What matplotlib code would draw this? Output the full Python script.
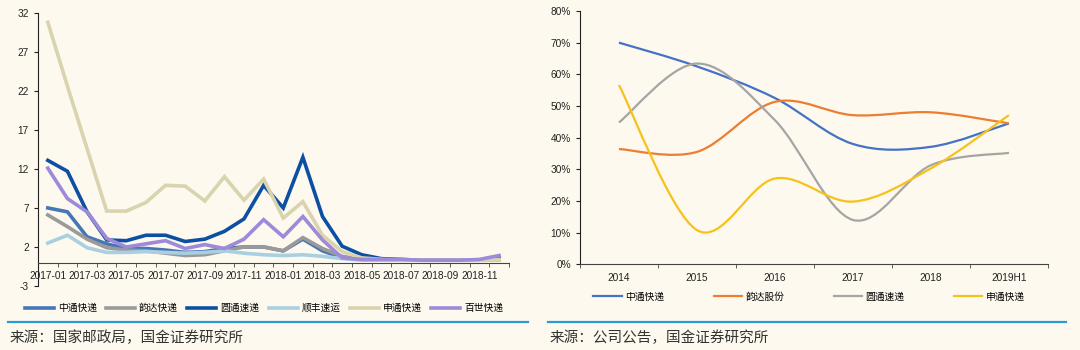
import matplotlib
matplotlib.use('Agg')
import matplotlib.pyplot as plt
from matplotlib.path import Path
from matplotlib.patches import PathPatch
from matplotlib.lines import Line2D
from matplotlib.ticker import FuncFormatter, FixedLocator
import numpy as np

plt.rcParams['font.family'] = ['Liberation Sans', 'Noto Sans CJK SC', 'DejaVu Sans']
plt.rcParams['axes.unicode_minus'] = False

# ---- left chart data: monthly complaint rates ----
months = ['%d-%02d' % (y, m) for y in (2017, 2018) for m in range(1, 13)]
zto_m = [7.0, 6.5, 3.3, 2.4, 1.8, 1.8, 1.6, 1.3, 1.4, 1.8, 2.0, 2.0, 1.5, 3.0, 1.5, 0.6, 0.4, 0.3, 0.3, 0.3, 0.3, 0.3, 0.3, 0.5]
yunda_m = [6.1, 4.6, 3.0, 1.9, 1.6, 1.5, 1.2, 0.9, 1.0, 1.5, 2.0, 2.0, 1.5, 3.2, 1.8, 0.8, 0.4, 0.3, 0.3, 0.3, 0.3, 0.3, 0.3, 0.4]
yto_m = [13.1, 11.7, 6.5, 2.9, 2.8, 3.5, 3.5, 2.7, 3.0, 4.0, 5.6, 9.9, 7.0, 13.5, 5.9, 2.1, 1.0, 0.5, 0.4, 0.3, 0.3, 0.3, 0.3, 0.6]
sf_m = [2.5, 3.5, 1.9, 1.3, 1.3, 1.4, 1.3, 1.2, 1.3, 1.5, 1.2, 1.0, 0.9, 1.0, 0.8, 0.5, 0.3, 0.3, 0.3, 0.3, 0.3, 0.3, 0.3, 0.3]
sto_m = [30.8, 22.6, 14.6, 6.6, 6.6, 7.7, 9.9, 9.8, 7.9, 11.0, 8.0, 10.7, 5.7, 7.8, 3.5, 1.4, 0.6, 0.4, 0.3, 0.3, 0.3, 0.3, 0.3, 0.4]
best_m = [12.1, 8.2, 6.5, 3.1, 2.0, 2.4, 2.8, 1.8, 2.3, 1.8, 3.0, 5.5, 3.3, 5.9, 2.9, 0.6, 0.4, 0.4, 0.4, 0.3, 0.3, 0.3, 0.4, 0.9]
left_names = ['中通快递', '韵达快递', '圆通速递', '顺丰速运', '申通快递', '百世快递']
left_colors = ['#4676b6', '#9a9a9a', '#0d4fa3', '#a9d0e2', '#d9d3ae', '#9d8ad8']

# ---- right chart data: yearly share ----
years = ['2014', '2015', '2016', '2017', '2018', '2019H1']
zto_y = [0.700, 0.625, 0.525, 0.380, 0.371, 0.445]
yunda_y = [0.364, 0.355, 0.513, 0.471, 0.480, 0.445]
yto_y = [0.448, 0.634, 0.455, 0.140, 0.313, 0.352]
sto_y = [0.566, 0.108, 0.271, 0.198, 0.303, 0.471]
right_names = ['中通快递', '韵达股份', '圆通速递', '申通快递']
right_colors = ['#4472c4', '#ed7d31', '#a5a5a5', '#f6c21a']

bg = '#fdf9ef'
fig = plt.figure(figsize=(10.8, 3.5), dpi=100, facecolor=bg)


def smooth_path(xs, ys):
    # Excel-style smoothed line: cubic bezier through every point
    pts = np.column_stack([xs, ys]).astype(float)
    n = len(pts)
    verts = [pts[0]]
    codes = [Path.MOVETO]
    for i in range(n - 1):
        p0 = pts[i - 1] if i > 0 else pts[i]
        p1 = pts[i]
        p2 = pts[i + 1]
        p3 = pts[i + 2] if i + 2 < n else pts[i + 1]
        c1 = p1 + (p2 - p0) / 6.0
        c2 = p2 - (p3 - p1) / 6.0
        verts += [c1, c2, p2]
        codes += [Path.CURVE4] * 3
    return Path(verts, codes)


def style_axes(ax):
    ax.set_facecolor(bg)
    for s in ['top', 'right']:
        ax.spines[s].set_visible(False)
    ax.spines['left'].set_color('#222222')
    ax.spines['bottom'].set_color('#444444')
    ax.tick_params(axis='both', labelsize=7.3, colors='#222222', length=3)


# ---- left ----
ax1 = fig.add_axes([0.0352, 0.183, 0.436, 0.78])
style_axes(ax1)
x = np.arange(len(months))
series_m = [zto_m, yunda_m, yto_m, sf_m, sto_m, best_m]
for vals, name, c in zip(series_m, left_names, left_colors):
    ax1.plot(x, vals, color=c, lw=2.6, label=name, solid_joinstyle='miter')
ax1.set_xlim(-0.5, len(months) - 0.5)
ax1.set_ylim(-3, 32)
ax1.set_yticks([-3, 2, 7, 12, 17, 22, 27, 32])
ax1.spines['bottom'].set_position(('data', 0))
ax1.set_xticks(x[::2])
ax1.set_xticklabels(months[::2])
ax1.xaxis.set_minor_locator(FixedLocator(np.arange(-0.5, len(months), 1.0)))
ax1.tick_params(axis='x', which='major', length=0, pad=6)
ax1.tick_params(axis='x', which='minor', length=3, color='#444444', direction='out')

fig.legend(handles=[Line2D([], [], color=c, lw=2.6) for c in left_colors],
           labels=left_names, loc='center', bbox_to_anchor=(0.2444, 0.12),
           ncol=6, frameon=False, fontsize=7, handlelength=3.0,
           handletextpad=0.4, columnspacing=0.95)

# ---- right ----
ax2 = fig.add_axes([0.537, 0.2449, 0.4333, 0.7237])
style_axes(ax2)
xr = np.arange(len(years))
series_y = [zto_y, yunda_y, yto_y, sto_y]
for vals, c in zip(series_y, right_colors):
    ax2.add_patch(PathPatch(smooth_path(xr, vals), fill=False, edgecolor=c, lw=1.6))
ax2.set_xlim(-0.5, len(years) - 0.5)
ax2.set_ylim(0, 0.8)
ax2.set_yticks(np.arange(0, 0.81, 0.1))
ax2.yaxis.set_major_formatter(FuncFormatter(lambda v, p: '%d%%' % round(v * 100)))
ax2.set_xticks(xr)
ax2.set_xticklabels(years)
ax2.xaxis.set_minor_locator(FixedLocator(np.arange(-0.5, len(years), 1.0)))
ax2.tick_params(axis='x', which='major', length=0, pad=6)
ax2.tick_params(axis='x', which='minor', length=3, color='#444444', direction='out')

fig.legend(handles=[Line2D([], [], color=c, lw=1.6) for c in right_colors],
           labels=right_names, loc='center', bbox_to_anchor=(0.749, 0.152),
           ncol=4, frameon=False, fontsize=7, handlelength=2.9,
           handletextpad=0.35, columnspacing=5.1)

# ---- source lines ----
fig.add_artist(Line2D([8 / 1080, 528 / 1080], [1 - 322 / 350] * 2, color='#2b9bd7', lw=1.6))
fig.add_artist(Line2D([548 / 1080, 1066 / 1080], [1 - 322 / 350] * 2, color='#2b9bd7', lw=1.6))
fig.text(10 / 1080, 1 - 338 / 350, '来源：国家邮政局，国金证券研究所', fontsize=10.5,
         color='#333333', va='center', ha='left', family=['Noto Sans CJK SC'])
fig.text(550 / 1080, 1 - 338 / 350, '来源：公司公告，国金证券研究所', fontsize=10.5,
         color='#333333', va='center', ha='left', family=['Noto Sans CJK SC'])

fig.savefig('out.png', dpi=100, facecolor=bg)
